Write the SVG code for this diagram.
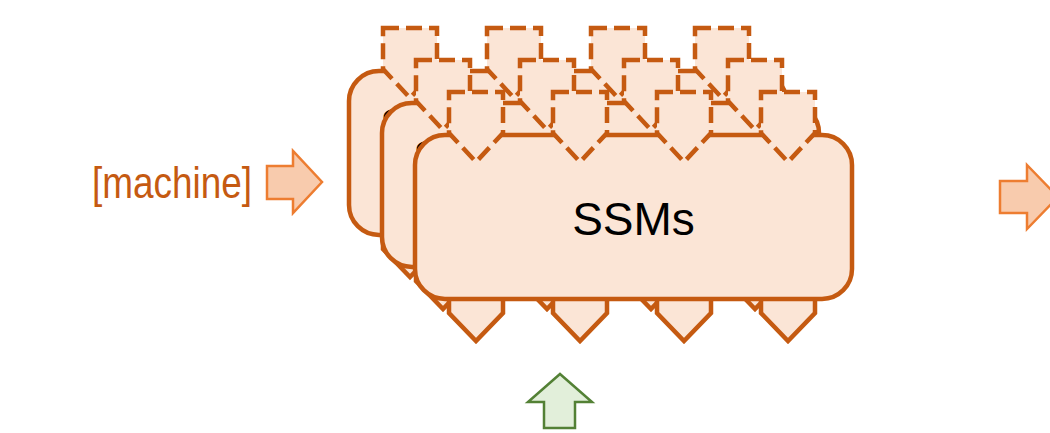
<svg xmlns="http://www.w3.org/2000/svg" xmlns:xlink="http://www.w3.org/1999/xlink" width="1050" height="433" viewBox="0 0 1050 433">
  <style>
    .card{fill:#FBE5D6;stroke:#C55A11;stroke-width:4.5}
    .port-in{fill:#FBE5D6;stroke:#C55A11;stroke-width:4.5;stroke-dasharray:16 7;stroke-linejoin:miter}
    .port-out{fill:#FBE5D6;stroke:#C55A11;stroke-width:4.5;stroke-linejoin:miter}
    .title{font-family:"Liberation Sans",Arial,Helvetica,sans-serif;font-size:46px;fill:#000}
    .flow{fill:#F8CBAD;stroke:#ED7D31;stroke-width:2.5}
    .ctrl{fill:#E2EFDA;stroke:#538135;stroke-width:2.5}
  </style>
  <defs>
    <!-- pentagon arrow pointing down, anchored at its top centre -->
    <path id="in-arrow" d="M -27 0 H 27 V 41 L 0 70 L -27 41 Z"/>
    <!-- lower output arrow, anchored at the card's bottom edge -->
    <path id="out-arrow" d="M -27 -14 H 27 V 14 L 0 42 L -27 14 Z"/>
    <!-- one card of the stack, in front-card coordinates -->
    <g id="card-body">
      <use xlink:href="#out-arrow" class="port-out" transform="translate(476,299)"/>
      <use xlink:href="#out-arrow" class="port-out" transform="translate(580,299)"/>
      <use xlink:href="#out-arrow" class="port-out" transform="translate(684,299)"/>
      <use xlink:href="#out-arrow" class="port-out" transform="translate(788,299)"/>
      <rect class="card" x="415" y="135" width="437" height="164" rx="30" ry="30"/>
      <use xlink:href="#in-arrow" class="port-in" transform="translate(476,92)"/>
      <use xlink:href="#in-arrow" class="port-in" transform="translate(580,92)"/>
      <use xlink:href="#in-arrow" class="port-in" transform="translate(684,92)"/>
      <use xlink:href="#in-arrow" class="port-in" transform="translate(788,92)"/>
    </g>
  </defs>

  <!-- input label -->
  <g id="machine-label">
    <text x="92" y="198" font-family="'Liberation Sans Narrow','Liberation Sans',Arial,sans-serif" font-size="44" fill="#C55A11" textLength="160" lengthAdjust="spacingAndGlyphs">[machine]</text>
  </g>

  <!-- stacked SSM cards, back to front; only a sliver of the rear titles shows -->
  <g id="ssm-back" transform="translate(-66,-64)">
    <use xlink:href="#card-body"/>
    <text class="title" x="446" y="205">S</text>
  </g>
  <g id="ssm-middle" transform="translate(-33,-32)">
    <use xlink:href="#card-body"/>
    <text class="title" x="446" y="205">S</text>
  </g>
  <g id="ssm-front">
    <use xlink:href="#card-body"/>
    <text class="title" x="633.5" y="235" text-anchor="middle">SSMs</text>
  </g>

  <!-- block arrows feeding in and out -->
  <g id="connectors">
    <path class="flow" d="M267 166 H293 V151 L322 182 L293 213 V199 H267 Z"/>
    <path class="flow" d="M1000 181 H1027 V165 L1058 197 L1027 229 V213 H1000 Z"/>
    <path class="ctrl" d="M560 374 L592 402 H575 V428 H544 V402 H528 Z"/>
  </g>
</svg>
